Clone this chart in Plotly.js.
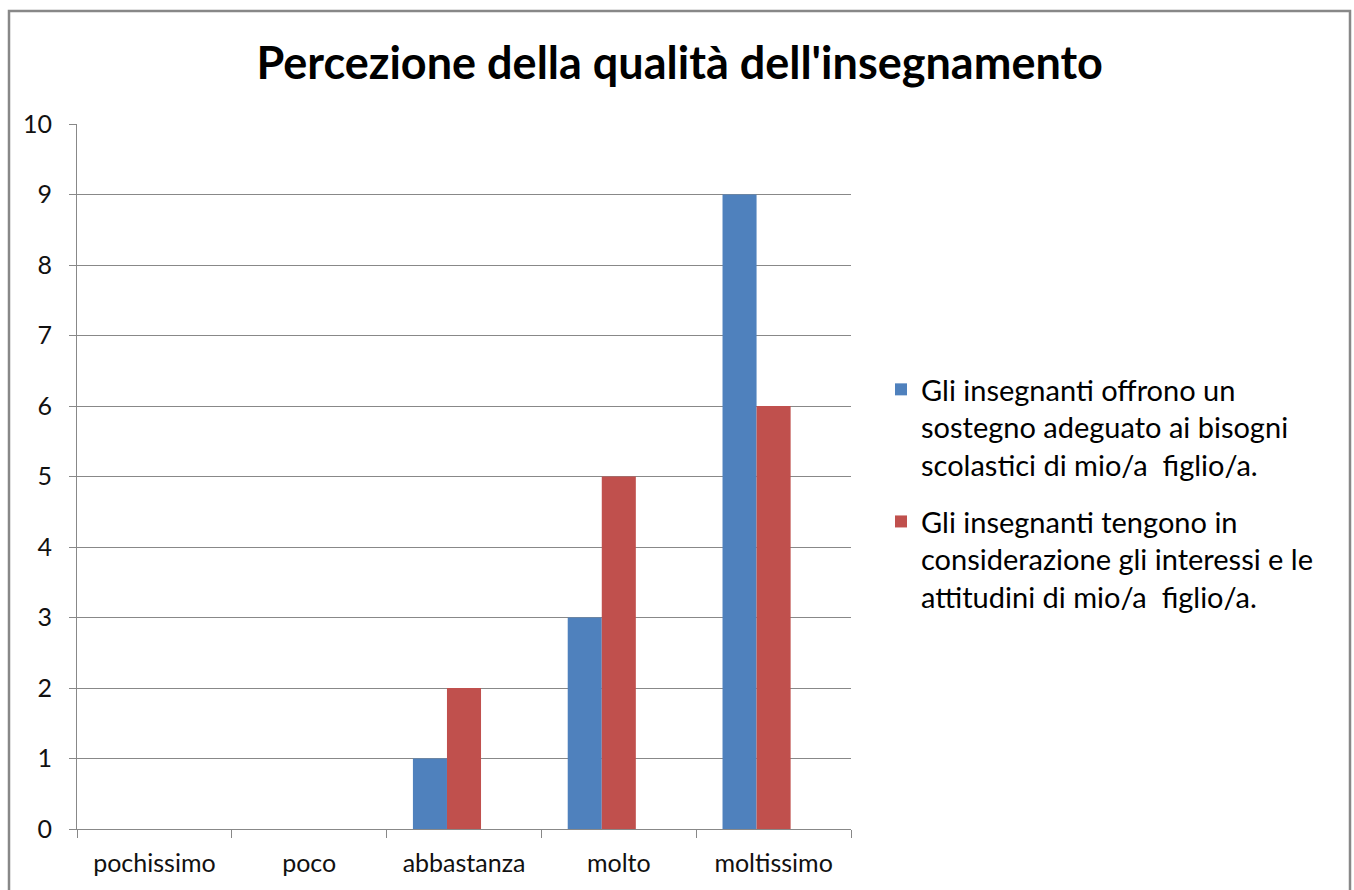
<!DOCTYPE html>
<html>
<head>
<meta charset="utf-8">
<script src="https://cdn.plot.ly/plotly-3.0.1.min.js"></script>
<style>html,body{margin:0;padding:0;background:#fff;}#chart{width:1354px;height:890px;}</style>
</head>
<body>
<div id="chart"></div>
<script>
const categories = ['pochissimo', 'poco', 'abbastanza', 'molto', 'moltissimo'];
const seriesNames = [
  'Gli insegnanti offrono un<br>sostegno adeguato ai bisogni<br>scolastici di mio/a  figlio/a.',
  'Gli insegnanti tengono in<br>considerazione gli interessi e le<br>attitudini di mio/a  figlio/a.'
];
const sostegno = [0, 0, 1, 3, 9];
const interessi = [0, 0, 2, 5, 6];
const yTicks = [0, 1, 2, 3, 4, 5, 6, 7, 8, 9, 10];

const FONT = 'Lato, "Open Sans", sans-serif';
const traces = [
  {type: 'bar', x: categories, y: sostegno, name: seriesNames[0], legendgroup: 'a',
   marker: {color: '#4F81BD'}, width: 0.22, offset: -0.33},
  {type: 'bar', x: categories, y: interessi, name: seriesNames[1], legendgroup: 'b',
   marker: {color: '#C0504D'}, width: 0.22, offset: -0.11}
];

const L = 77, R = 851, T = 124, B = 829, W = 1354, H = 890;
const px2x = p => (p - L) / (R - L);
const px2y = p => (B - p) / (B - T);

const layout = {
  width: W, height: H,
  margin: {l: L, r: W - R, t: T, b: H - B, pad: 0},
  paper_bgcolor: '#fff', plot_bgcolor: '#fff',
  barmode: 'overlay',
  font: {family: FONT, color: '#000', size: 24},
  title: {text: "Percezione della qualità dell'insegnamento",
          font: {family: FONT, size: 45, color: '#000', weight: 'bold'},
          xref: 'container', x: 0.502, xanchor: 'center',
          yref: 'container', y: 1 - 63 / H, yanchor: 'middle'},
  xaxis: {type: 'category', showline: true, linecolor: '#888', linewidth: 1,
          ticks: 'outside', tickson: 'boundaries', ticklen: 8, tickcolor: '#888',
          ticklabelstandoff: 12,
          showgrid: false, tickfont: {size: 25, family: FONT, color: '#111'}, fixedrange: true},
  yaxis: {range: [0, 10], tickvals: yTicks, showline: true, linecolor: '#888', linewidth: 1,
          ticks: 'outside', ticklen: 7, tickcolor: '#888', ticklabelstandoff: 12,
          showgrid: true, gridcolor: '#888', gridwidth: 1, zeroline: false,
          tickfont: {size: 25, family: FONT, color: '#111'}, fixedrange: true},
  legend: {x: px2x(881), xanchor: 'left', y: px2y(364), yanchor: 'top', valign: 'top',
           font: {size: 29, family: FONT, color: '#000'}, tracegroupgap: 16,
           itemwidth: 30, bgcolor: 'rgba(0,0,0,0)', traceorder: 'grouped'},
  shapes: [{type: 'rect', xref: 'paper', yref: 'paper',
            x0: px2x(9), x1: px2x(1350), y0: px2y(900), y1: px2y(11),
            line: {color: '#888', width: 2.5}, fillcolor: 'rgba(0,0,0,0)', layer: 'below'}],
  showlegend: true
};

Plotly.newPlot('chart', traces, layout, {displayModeBar: false, staticPlot: true});
</script>
</body>
</html>
